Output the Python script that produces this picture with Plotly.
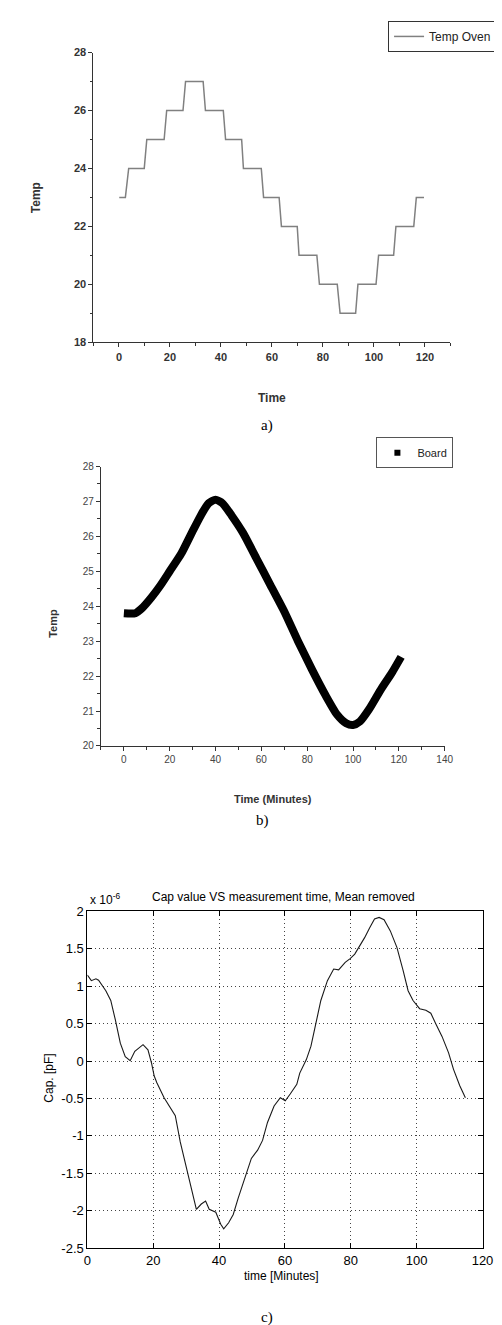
import plotly.graph_objects as go

W, H = 502, 1325

# ---- Panel a: oven temperature (step profile corners) ----
oven_time = [0.1, 2.5, 3.8, 9.9, 10.9, 17.7, 18.7, 25.1, 26.1, 33.0, 33.9, 40.9, 41.8, 48.1,
             48.8, 55.8, 56.7, 62.8, 63.7, 69.9, 70.6, 77.6, 78.6, 85.6, 86.7, 92.8,
             93.7, 100.8, 101.8, 107.7, 108.6, 115.6, 116.6, 119.6]
oven_temp = [23, 23, 24, 24, 25, 25, 26, 26, 27, 27, 26, 26, 25, 25,
             24, 24, 23, 23, 22, 22, 21, 21, 20, 20, 19, 19,
             20, 20, 21, 21, 22, 22, 23, 23]

# ---- Panel b: board temperature ----
board_time = [0, 5, 8, 12, 16, 20, 25, 30, 34, 37, 40, 43, 47, 52, 58, 64, 70, 76, 82,
              88, 93, 97, 100, 103, 107, 112, 117, 121]
board_temp = [23.8, 23.8, 23.95, 24.25, 24.6, 25.0, 25.5, 26.15, 26.65, 26.95, 27.05, 26.95,
              26.6, 26.1, 25.35, 24.6, 23.85, 23.0, 22.2, 21.45, 20.9, 20.65, 20.6, 20.7,
              21.05, 21.6, 22.1, 22.55]

# ---- Panel c: capacitance, mean removed (x 1e-6) ----
cap_time = [0, 1.2, 2.6, 3.4, 5.6, 7.1, 8.5, 10.0, 11.5, 13.0, 14.4, 16.9, 18.4, 19.5, 20.3,
            21.1, 23.3, 25.2, 26.7, 28.2, 30.1, 31.6, 33.1, 34.6, 35.9, 37.0, 39.0, 40.5,
            41.4, 42.9, 44.3, 45.8, 47.8, 49.8, 51.7, 53.2, 54.7, 56.7, 58.6, 60.1, 61.6,
            63.6, 64.5, 66.5, 67.9, 69.4, 70.9, 72.9, 74.8, 76.3, 78.3, 79.8, 81.2, 82.7,
            84.2, 85.7, 87.2, 88.6, 90.1, 92.0, 94.0, 95.9, 97.4, 98.9, 100.9, 102.8,
            104.3, 105.8, 107.7, 109.7, 111.2, 113.1, 114.8]
cap_val = [1.15, 1.075, 1.1, 1.08, 0.94, 0.81, 0.55, 0.24, 0.06, 0.005, 0.13, 0.22, 0.15,
           -0.03, -0.2, -0.29, -0.49, -0.62, -0.73, -1.08, -1.43, -1.74, -1.98, -1.91,
           -1.87, -1.98, -2.02, -2.18, -2.24, -2.16, -2.05, -1.83, -1.57, -1.30, -1.19,
           -1.06, -0.82, -0.60, -0.49, -0.53, -0.44, -0.31, -0.16, 0.02, 0.20, 0.50,
           0.81, 1.075, 1.23, 1.22, 1.32, 1.37, 1.43, 1.54, 1.65, 1.78, 1.90, 1.92, 1.89,
           1.74, 1.52, 1.21, 0.94, 0.81, 0.70, 0.68, 0.64, 0.50, 0.33, 0.11, -0.11,
           -0.33, -0.49]
cap_ticks = [-2.5, -2, -1.5, -1, -0.5, 0, 0.5, 1, 1.5, 2]
cap_ticktext = ["-2.5", "-2", "-1.5", "-1", "-0.5", "0", "0.5", "1", "1.5", "2"]


def px(x):
    return x / W


def py(y):
    return 1 - y / H


fig = go.Figure()

fig.add_trace(go.Scatter(x=oven_time, y=oven_temp, mode="lines", name="Temp Oven",
                         line=dict(color="#808080", width=1.5), xaxis="x", yaxis="y",
                         legend="legend"))
fig.add_trace(go.Scatter(x=board_time, y=board_temp, mode="lines", name="Board",
                         line=dict(color="black", width=8, shape="spline", smoothing=0.6),
                         xaxis="x2", yaxis="y2", showlegend=False))
fig.add_trace(go.Scatter(x=[None], y=[None], mode="markers", name="Board",
                         marker=dict(symbol="square", size=6, color="black"),
                         xaxis="x2", yaxis="y2", legend="legend2"))
fig.add_trace(go.Scatter(x=cap_time, y=cap_val, mode="lines", name="Cap",
                         line=dict(color="#1a1a1a", width=1.1), xaxis="x3", yaxis="y3",
                         showlegend=False))

font_a = dict(family="Liberation Sans, Arial", size=11, color="#333", weight="bold")
font_b = dict(family="Liberation Sans, Arial", size=10, color="#444")
axis_common = dict(showline=True, linecolor="#333", linewidth=1.3, ticks="outside",
                   ticklen=4, tickwidth=1.2, tickcolor="#333", showgrid=False,
                   zeroline=False, fixedrange=True)

mat_font = dict(family="Liberation Sans, Arial", size=13, color="black")
mat_axis = dict(showline=True, linecolor="black", linewidth=1, mirror="ticks",
                ticks="inside", ticklen=5, tickcolor="black", showgrid=True,
                gridcolor="#444", griddash="1px,3px", gridwidth=1, zeroline=False,
                tickfont=mat_font, fixedrange=True)

fig.update_layout(
    width=W, height=H, margin=dict(l=0, r=0, t=0, b=0),
    paper_bgcolor="white", plot_bgcolor="white",
    xaxis=dict(axis_common, tickfont=font_a, domain=[px(84), px(452)], range=[-10, 130],
               dtick=20, tick0=0,
               minor=dict(ticks="outside", ticklen=2.5, dtick=10, tick0=0, tickcolor="#333"),
               anchor="y"),
    yaxis=dict(axis_common, tickfont=font_a, domain=[py(331), py(38)], range=[18, 28],
               dtick=2, tick0=18,
               minor=dict(ticks="outside", ticklen=2.5, dtick=1, tick0=18, tickcolor="#333"),
               anchor="x"),
    xaxis2=dict(axis_common, tickfont=font_b, domain=[px(91.7), px(446)], range=[-10, 140],
                dtick=20, tick0=0,
                minor=dict(ticks="outside", ticklen=2.5, dtick=10, tick0=0, tickcolor="#333"),
                anchor="y2"),
    yaxis2=dict(axis_common, tickfont=font_b, domain=[py(739.3), py(456.7)], range=[20, 28],
                dtick=1, tick0=20,
                minor=dict(ticks="outside", ticklen=2.5, dtick=0.5, tick0=20, tickcolor="#333"),
                anchor="x2"),
    xaxis3=dict(mat_axis, domain=[px(77.7), px(485)], range=[0, 120], dtick=20, tick0=0,
                anchor="y3"),
    yaxis3=dict(mat_axis, domain=[py(1247.3), py(906.7)], range=[-2.5, 2],
                tickvals=cap_ticks, ticktext=cap_ticktext, anchor="x3"),
    legend=dict(x=px(500), y=py(6), xanchor="right", yanchor="top",
                bordercolor="#333", borderwidth=1, bgcolor="white",
                font=dict(family="Liberation Sans, Arial", size=12, color="#222"),
                itemwidth=30),
    legend2=dict(x=px(455), y=py(427), xanchor="right", yanchor="top",
                 bordercolor="#555", borderwidth=1, bgcolor="white",
                 font=dict(family="Liberation Sans, Arial", size=11, color="#222"),
                 itemwidth=30),
    showlegend=True,
)

lab_font = dict(family="Liberation Sans, Arial", size=12, color="#333")
cap_font = dict(family="Liberation Serif, Times New Roman", size=15, color="black")
mat_lab = dict(family="Liberation Sans, Arial", size=12, color="black")

annos = [
    dict(text="<b>Temp</b>", x=px(25), y=py(185), textangle=-90, font=lab_font),
    dict(text="<b>Time</b>", x=px(268), y=py(387), font=lab_font),
    dict(text="a)", x=px(263), y=py(415), font=cap_font),
    dict(text="<b>Temp</b>", x=px(42), y=py(615), textangle=-90, font=dict(lab_font, size=11)),
    dict(text="<b>Time (Minutes)</b>", x=px(269), y=py(793), font=dict(lab_font, size=11)),
    dict(text="b)", x=px(258), y=py(815), font=cap_font),
    dict(text="Cap value VS measurement time, Mean removed", x=px(280), y=py(892), font=mat_lab),
    dict(text="x 10<sup>-6</sup>", x=px(78), y=py(894), xanchor="left", font=mat_lab),
    dict(text="Cap. [pF]", x=px(38), y=py(1075), textangle=-90, font=mat_lab),
    dict(text="time [Minutes]", x=px(278), y=py(1275), font=mat_lab),
    dict(text="c)", x=px(263), y=py(1317), font=cap_font),
]
for a in annos:
    a.setdefault("xanchor", "center")
    fig.add_annotation(xref="paper", yref="paper", showarrow=False, yanchor="middle", **a)

fig.write_html("out.html")
